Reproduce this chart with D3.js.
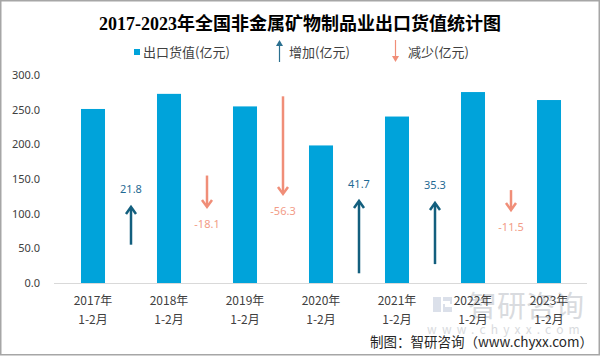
<!DOCTYPE html>
<html>
<head>
<meta charset="utf-8">
<script src="https://cdn.jsdelivr.net/npm/d3@7"></script>
<style>
  html, body { margin: 0; padding: 0; background: #fff; }
  svg { display: block; }
</style>
</head>
<body>
<svg id="chart" width="601" height="356"></svg>
<script>
// ---- data ----
const categories = ["2017年|1-2月", "2018年|1-2月", "2019年|1-2月", "2020年|1-2月", "2021年|1-2月", "2022年|1-2月", "2023年|1-2月"];
const exportValue = [251.0, 272.8, 254.7, 198.4, 240.1, 275.4, 263.9];
const changes = [21.8, -18.1, -56.3, 41.7, 35.3, -11.5];
const arrowTip = [43.9, 43.9, 51.4, 47.3, 46.2, 42.1];   // secondary axis level where each arrow head ends
const yTicks = [0, 50, 100, 150, 200, 250, 300];
const titleText = "2017-2023年全国非金属矿物制品业出口货值统计图";
const legendLabels = ["出口货值(亿元)", "增加(亿元)", "减少(亿元)"];
const sourceText = "制图：智研咨询（www.chyxx.com）";

// ---- styles ----
const BAR = "#00a3da", UP = "#135f7e", UPTXT = "#1f6a94", DOWN = "#f08e78", DOWNTXT = "#f29c87";
const TXT = "#404040";
const CJK = "'Noto Sans CJK SC','Noto Sans',sans-serif";
const fmt = v => d3.format(".1f")(v).replace("\u2212", "-");

const svg = d3.select("#chart");

// border
svg.append("rect").attr("x", 0.75).attr("y", 0.75).attr("width", 598.5).attr("height", 354)
  .attr("fill", "#fff").attr("stroke", "#a6a6a6").attr("stroke-width", 1.5);

// scales
const x = d3.scaleBand().domain(categories).range([55, 587]).paddingInner(0.684).paddingOuter(0.342);
const y = d3.scaleLinear().domain([0, 300]).range([283, 75]);
const y2 = d3.scaleLinear().domain([0, 120]).range([283, 75]);

// watermark
const wm = svg.append("g").attr("opacity", 0.5);
wm.append("rect").attr("x", 433).attr("y", 297).attr("width", 8).attr("height", 15).attr("fill", "#b9c2d6");
wm.append("path").attr("d", "M443,297 h9 v7 h-7 v3 h7 v5 h-9 v-8 h7 v-3 h-7 z").attr("fill", "#b9c2d6");
wm.append("text").attr("x", 526).attr("y", 317).attr("text-anchor", "middle")
  .attr("font-family", CJK).attr("font-size", 29).attr("fill", "#b4b8c0").text("智研咨询");
wm.append("text").attr("x", 506).attr("y", 334).attr("text-anchor", "middle")
  .attr("font-family", CJK).attr("font-size", 12).attr("letter-spacing", 5.2).attr("fill", "#b4b8c0").text("www.chyxx.com");

// title
svg.append("text").attr("x", 300).attr("y", 30).attr("text-anchor", "middle")
  .attr("font-family", "'Liberation Serif','Noto Sans CJK SC',serif").attr("font-weight", "bold")
  .attr("font-size", 18).attr("fill", "#000").text(titleText);

// legend
const lg = svg.append("g").attr("font-family", CJK).attr("font-size", 13).attr("fill", TXT);
lg.append("rect").attr("x", 134).attr("y", 49).attr("width", 6).attr("height", 6).attr("fill", BAR);
lg.append("text").attr("x", 143).attr("y", 56.5).text(legendLabels[0]);
lg.append("line").attr("x1", 279.5).attr("x2", 279.5).attr("y1", 62).attr("y2", 42).attr("stroke", "#2b7090").attr("stroke-width", 1.2);
lg.append("path").attr("d", "M276,46 L279.5,40 L283,46 Z").attr("fill", "#2b7090");
lg.append("text").attr("x", 289).attr("y", 56.5).text(legendLabels[1]);
lg.append("line").attr("x1", 395.5).attr("x2", 395.5).attr("y1", 40).attr("y2", 58).attr("stroke", DOWN).attr("stroke-width", 1.2);
lg.append("path").attr("d", "M392,56 L395.5,62 L399,56 Z").attr("fill", DOWN);
lg.append("text").attr("x", 408).attr("y", 56.5).text(legendLabels[2]);

// y axis
const yAxis = svg.append("g").attr("transform", "translate(44,0)")
  .call(d3.axisLeft(y).tickValues(yTicks).tickFormat(d3.format(".1f")).tickSize(0).tickPadding(4));
yAxis.select(".domain").remove();
yAxis.selectAll("text").attr("font-family", "'Noto Sans',sans-serif").attr("font-size", 11).attr("fill", TXT);

// bars
svg.append("g").selectAll("rect").data(exportValue).join("rect")
  .attr("x", (d, i) => x(categories[i]))
  .attr("y", d => y(d))
  .attr("width", x.bandwidth())
  .attr("height", d => y(0) - y(d))
  .attr("fill", BAR);

// x axis
const xAxis = svg.append("g").attr("transform", `translate(0,${y(0)})`)
  .call(d3.axisBottom(x).tickSize(0).tickFormat(""));
xAxis.select(".domain").attr("stroke", "#d9d9d9").attr("stroke-width", 1).attr("d", "M54,0.5H587");
xAxis.selectAll(".tick").each(function(d) {
  const parts = d.split("|");
  const t = d3.select(this).append("text").attr("font-family", CJK).attr("font-size", 12).attr("fill", TXT)
    .attr("text-anchor", "middle");
  t.append("tspan").attr("x", 0).attr("y", 22).text(parts[0]);
  t.append("tspan").attr("x", 0).attr("y", 40.5).text(parts[1]);
});

// change arrows
const step = x.step();
const arrowX = i => x(categories[i]) + x.bandwidth() + (step - x.bandwidth()) / 2;
const ag = svg.append("g");
changes.forEach((c, i) => {
  const cx = arrowX(i);
  const tip = y2(arrowTip[i]);
  const up = c > 0;
  const start = y2(arrowTip[i] - c);
  const col = up ? UP : DOWN;
  const dir = up ? 1 : -1;
  ag.append("line").attr("x1", cx).attr("x2", cx).attr("y1", start).attr("y2", tip + dir * 1)
    .attr("stroke", col).attr("stroke-width", 2.5);
  ag.append("path").attr("d", `M${cx - 5},${tip + dir * 7} L${cx},${tip} L${cx + 5},${tip + dir * 7}`)
    .attr("fill", "none").attr("stroke", col).attr("stroke-width", 2.5).attr("stroke-linejoin", "miter");
  ag.append("text").attr("x", cx).attr("y", up ? tip - 17.5 + 4 : tip + 17 + 4)
    .attr("text-anchor", "middle").attr("font-family", "'Noto Sans',sans-serif").attr("font-size", 11)
    .attr("fill", up ? UPTXT : DOWNTXT).text(fmt(c));
});

// source
svg.append("text").attr("x", 593).attr("y", 346.5).attr("text-anchor", "end")
  .attr("font-family", CJK).attr("font-size", 13.5).attr("fill", "#262626").text(sourceText);
</script>
</body>
</html>
